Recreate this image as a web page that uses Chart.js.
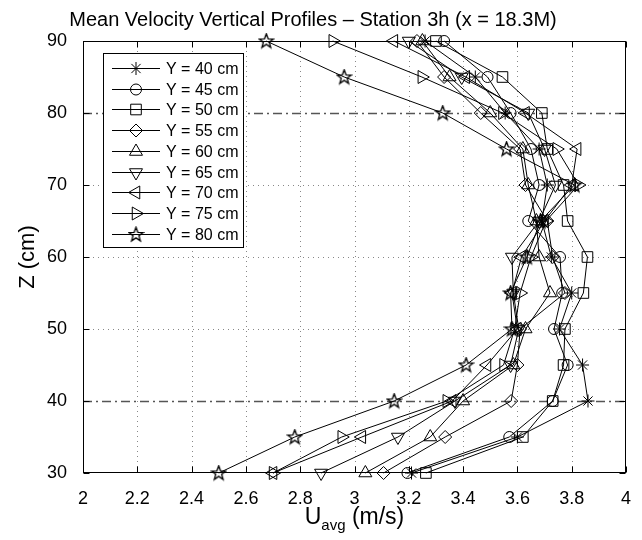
<!DOCTYPE html>
<html>
<head>
<meta charset="utf-8">
<title>Mean Velocity Vertical Profiles</title>
<script src="https://cdn.jsdelivr.net/npm/chart.js@4.4.0/dist/chart.umd.min.js"></script>
<style>
  html, body { margin: 0; padding: 0; background: #fff; }
  #wrap { width: 642px; height: 540px; }
</style>
</head>
<body>
<div id="wrap"><canvas id="profiles" width="642" height="540"></canvas></div>
<script>
// depth levels (cm), bottom to top
const zLevels = [30, 35, 40, 45, 50, 55, 60, 65, 70, 75, 80, 85, 90];

// mean velocity (m/s) at each depth, one array per lateral position
const u40 = [3.21, 3.60, 3.86, 3.84, 3.755, 3.80, 3.725, 3.69, 3.71, 3.68, 3.555, 3.445, 3.26];
const u45 = [3.195, 3.57, 3.73, 3.785, 3.735, 3.765, 3.757, 3.64, 3.68, 3.65, 3.575, 3.49, 3.33];
const u50 = [3.263, 3.62, 3.73, 3.77, 3.775, 3.843, 3.858, 3.785, 3.77, 3.71, 3.69, 3.545, 3.30];
const u55 = [3.107, 3.334, 3.577, 3.60, 3.61, 3.775, 3.73, 3.71, 3.63, 3.61, 3.465, 3.33, 3.23];
const u60 = [3.04, 3.279, 3.40, 3.585, 3.63, 3.72, 3.68, 3.67, 3.64, 3.62, 3.50, 3.35, 3.25];
const u65 = [2.877, 3.16, 3.37, 3.575, 3.605, 3.585, 3.58, 3.68, 3.74, 3.70, 3.64, 3.395, 3.20];
const u70 = [2.70, 3.027, 3.36, 3.488, 3.60, 3.58, 3.615, 3.70, 3.80, 3.82, 3.63, 3.41, 3.145];
const u75 = [2.70, 2.953, 3.34, 3.549, 3.59, 3.61, 3.65, 3.705, 3.825, 3.745, 3.545, 3.248, 2.92];
const u80 = [2.50, 2.78, 3.146, 3.411, 3.58, 3.575, 3.635, 3.685, 3.81, 3.56, 3.325, 2.962, 2.675];

const seriesLabels = ["Y = 40 cm", "Y = 45 cm", "Y = 50 cm", "Y = 55 cm", "Y = 60 cm",
                      "Y = 65 cm", "Y = 70 cm", "Y = 75 cm", "Y = 80 cm"];
const seriesValues = [u40, u45, u50, u55, u60, u65, u70, u75, u80];

// axis ticks
const xTickValues = [2, 2.2, 2.4, 2.6, 2.8, 3, 3.2, 3.4, 3.6, 3.8, 4];
const yTickValues = [30, 40, 50, 60, 70, 80, 90];
const dashDotLevels = [40, 80];

const FONT = "'Liberation Sans', Arial, Helvetica, sans-serif";

// five pointed star marker (not built into Chart.js)
function makePentagram() {
    const c = document.createElement("canvas");
    c.width = 17; c.height = 17;
    const g = c.getContext("2d");
    g.strokeStyle = "#000";
    g.lineWidth = 1.3;
    g.lineJoin = "miter";
    g.beginPath();
    for (let i = 0; i < 10; i++) {
        const r = i % 2 === 0 ? 7.5 : 3.1;
        const a = -Math.PI / 2 + i * Math.PI / 5;
        const px = 8.5 + r * Math.cos(a), py = 8.8 + r * Math.sin(a);
        if (i === 0) g.moveTo(px, py); else g.lineTo(px, py);
    }
    g.closePath();
    g.stroke();
    return c;
}
const pentagram = makePentagram();

const markerStyles = ["star", "circle", "rect", "rectRot", "triangle", "triangle", "triangle", "triangle", pentagram];
const markerRotations = [0, 0, 0, 0, 0, 180, 270, 90, 0];
const markerRadii = [6.5, 5.5, 7.5, 6.5, 7.5, 7.5, 7.5, 7.5, 7];

const datasets = seriesValues.map((vals, i) => ({
    label: seriesLabels[i],
    data: vals.map((u, k) => ({ x: u, y: zLevels[k] })),
    showLine: true,
    borderColor: "#000",
    borderWidth: 1,
    pointStyle: markerStyles[i],
    rotation: markerRotations[i],
    pointRadius: markerRadii[i],
    pointHoverRadius: markerRadii[i],
    pointBorderColor: "#000",
    pointBackgroundColor: "rgba(0,0,0,0)",
    pointBorderWidth: 1,
    tension: 0,
    clip: false
}));

// grid lines under the data
const gridPlugin = {
    id: "matlabGrid",
    beforeDatasetsDraw(chart) {
        const { ctx, chartArea: a, scales: { x, y } } = chart;
        ctx.save();
        ctx.lineWidth = 1;
        ctx.strokeStyle = "#888";
        ctx.setLineDash([1, 4]);
        xTickValues.slice(1, -1).forEach(v => {
            const px = Math.round(x.getPixelForValue(v)) + 0.5;
            ctx.beginPath(); ctx.moveTo(px, a.top); ctx.lineTo(px, a.bottom); ctx.stroke();
        });
        yTickValues.slice(1, -1).forEach(v => {
            if (dashDotLevels.includes(v)) return;
            const py = Math.round(y.getPixelForValue(v)) + 0.5;
            ctx.beginPath(); ctx.moveTo(a.left, py); ctx.lineTo(a.right, py); ctx.stroke();
        });
        // dash-dot reference lines
        ctx.strokeStyle = "#555";
        ctx.lineWidth = 1.5;
        ctx.setLineDash([9, 4, 2, 4]);
        dashDotLevels.forEach(v => {
            const py = Math.round(y.getPixelForValue(v)) + 0.5;
            ctx.beginPath(); ctx.moveTo(a.left, py); ctx.lineTo(a.right, py); ctx.stroke();
        });
        ctx.restore();
    }
};

// box, inward ticks, legend and x label on top
const framePlugin = {
    id: "matlabFrame",
    afterDraw(chart) {
        const { ctx, chartArea: a, scales: { x, y } } = chart;
        const L = Math.round(a.left) + 0.5, R = Math.round(a.right) - 0.5;
        const T = Math.round(a.top) + 0.5, B = Math.round(a.bottom) - 0.5;
        ctx.save();
        ctx.strokeStyle = "#000";
        ctx.lineWidth = 1;
        ctx.setLineDash([]);
        ctx.strokeRect(L, T, R - L, B - T);
        const tl = 6;
        ctx.beginPath();
        xTickValues.forEach(v => {
            const px = Math.round(x.getPixelForValue(v)) + 0.5;
            ctx.moveTo(px, B); ctx.lineTo(px, B - tl);
            ctx.moveTo(px, T); ctx.lineTo(px, T + tl);
        });
        yTickValues.forEach(v => {
            const py = Math.round(y.getPixelForValue(v)) + 0.5;
            ctx.moveTo(L, py); ctx.lineTo(L + tl, py);
            ctx.moveTo(R, py); ctx.lineTo(R - tl, py);
        });
        ctx.stroke();

        // legend
        const bx = 103.5, by = 53.5, bw = 140, bh = 194;
        ctx.fillStyle = "#fff";
        ctx.fillRect(bx, by, bw, bh);
        ctx.strokeRect(bx, by, bw, bh);
        ctx.font = "16px " + FONT;
        ctx.textBaseline = "middle";
        ctx.textAlign = "left";
        chart.data.datasets.forEach((ds, i) => {
            const cy = Math.round(68 + i * 20.7) + 0.5;
            ctx.strokeStyle = "#000";
            ctx.lineWidth = 1;
            ctx.beginPath(); ctx.moveTo(112, cy); ctx.lineTo(160, cy); ctx.stroke();
            ctx.fillStyle = "rgba(0,0,0,0)";
            Chart.helpers.drawPoint(ctx, {
                pointStyle: ds.pointStyle,
                rotation: ds.rotation,
                radius: ds.pointRadius,
                borderWidth: 1
            }, 136, cy);
            ctx.fillStyle = "#000";
            ctx.fillText(ds.label, 166, cy + 1);
        });

        // x axis label with subscript
        ctx.fillStyle = "#000";
        ctx.textBaseline = "alphabetic";
        const big = "23px " + FONT, small = "15px " + FONT;
        ctx.font = big;
        const wU = ctx.measureText("U").width;
        const wRest = ctx.measureText(" (m/s)").width;
        ctx.font = small;
        const wSub = ctx.measureText("avg").width;
        let sx = (a.left + a.right) / 2 - (wU + wSub + wRest) / 2;
        const base = 524;
        ctx.font = big; ctx.fillText("U", sx, base); sx += wU;
        ctx.font = small; ctx.fillText("avg", sx, base + 6); sx += wSub;
        ctx.font = big; ctx.fillText(" (m/s)", sx, base);
        ctx.restore();
    }
};

const ctx = document.getElementById("profiles").getContext("2d");
new Chart(ctx, {
    type: "scatter",
    data: { datasets: datasets },
    options: {
        responsive: false,
        animation: false,
        devicePixelRatio: 1,
        layout: { padding: { left: 0, right: 16, top: 0, bottom: 0 } },
        plugins: {
            legend: { display: false },
            tooltip: { enabled: false },
            title: {
                display: true,
                text: "Mean Velocity Vertical Profiles \u2013 Station 3h (x = 18.3M)",
                color: "#000",
                font: { family: FONT, size: 20, weight: "normal" },
                padding: { top: 8, bottom: 9 }
            }
        },
        scales: {
            x: {
                type: "linear",
                min: 2, max: 4,
                grid: { display: false },
                border: { display: false },
                afterBuildTicks: s => { s.ticks = xTickValues.map(v => ({ value: v })); },
                afterFit: s => { s.height = 67; },
                ticks: {
                    color: "#000",
                    padding: 7,
                    maxRotation: 0,
                    font: { family: FONT, size: 18 },
                    callback: v => String(Math.round(v * 10) / 10)
                }
            },
            y: {
                type: "linear",
                min: 30, max: 90,
                grid: { display: false },
                border: { display: false },
                afterBuildTicks: s => { s.ticks = yTickValues.map(v => ({ value: v })); },
                afterFit: s => { s.width = 83; },
                ticks: {
                    color: "#000",
                    padding: 8,
                    font: { family: FONT, size: 18 }
                },
                title: {
                    display: true,
                    text: "Z (cm)",
                    color: "#000",
                    font: { family: FONT, size: 22 },
                    padding: { top: 15, bottom: 0 }
                }
            }
        }
    },
    plugins: [gridPlugin, framePlugin]
});
</script>
</body>
</html>
